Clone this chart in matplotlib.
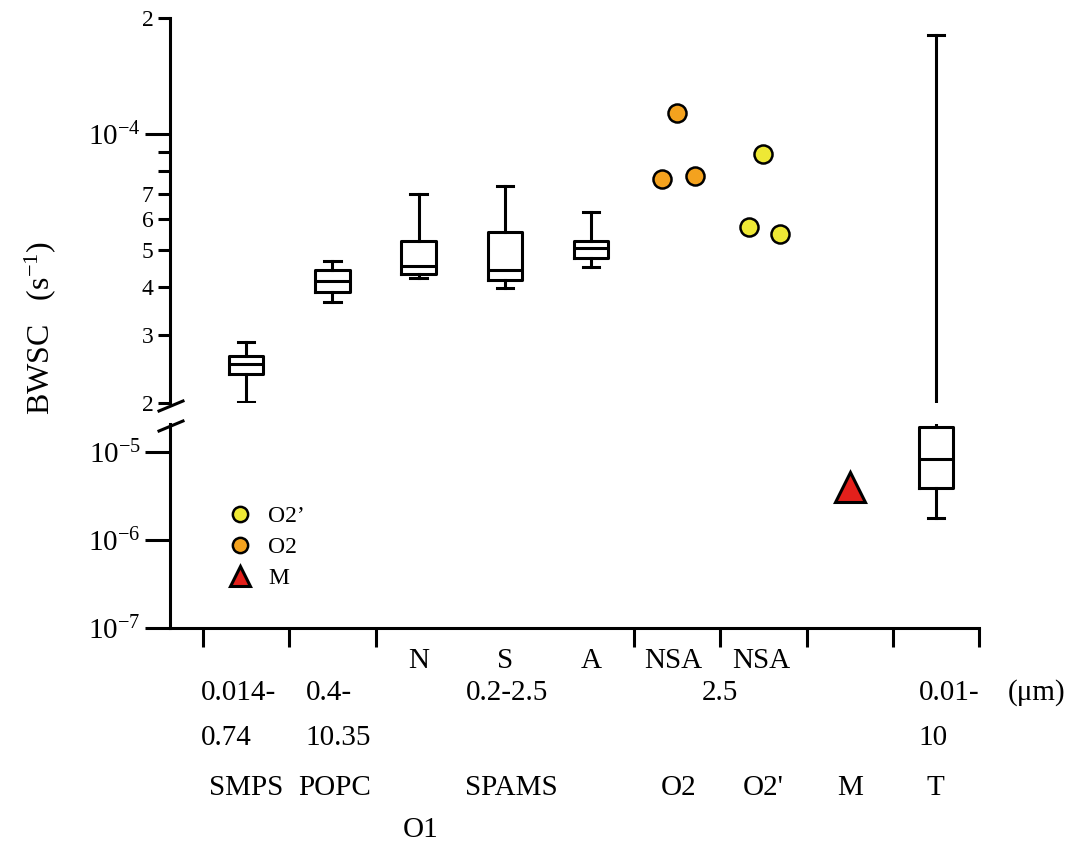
import numpy as np
import matplotlib
matplotlib.use("Agg")
import matplotlib.pyplot as plt
from matplotlib.lines import Line2D
from matplotlib.transforms import blended_transform_factory

plt.rcParams["font.family"] = ["Liberation Serif", "DejaVu Serif"]
plt.rcParams["mathtext.fontset"] = "custom"
plt.rcParams["mathtext.rm"] = "Liberation Serif"
plt.rcParams["mathtext.it"] = "Liberation Serif:italic"
plt.rcParams["mathtext.bf"] = "Liberation Serif:bold"

# box data (s^-1), categories SMPS, POPC, N, S, A, T
box_pos = [0, 1, 2, 3, 4, 8]
box_lo = [2.01e-5, 3.66e-5, 4.23e-5, 3.98e-5, 4.51e-5, 1.78e-6]
box_q1 = [2.38e-5, 3.88e-5, 4.33e-5, 4.17e-5, 4.76e-5, 3.9e-6]
box_med = [2.53e-5, 4.15e-5, 4.54e-5, 4.43e-5, 5.05e-5, 8.3e-6]
box_q3 = [2.65e-5, 4.43e-5, 5.27e-5, 5.56e-5, 5.27e-5, 1.92e-5]
box_hi = [2.88e-5, 4.68e-5, 6.98e-5, 7.33e-5, 6.27e-5, 1.81e-4]

# single points
o2_x = [4.82, 5.0, 5.2]
o2_y = [7.64e-5, 1.13e-4, 7.78e-5]
o2p_x = [5.83, 6.0, 6.19]
o2p_y = [5.73e-5, 8.86e-5, 5.50e-5]
m_x = [7]
m_y = [4.0e-6]

# labels under the axis
row_inst = ["N", "S", "A", "NSA", "NSA"]
row_inst_x = [2, 3, 4, 4.95, 5.98]
size_top = ["0.014-", "0.4-", "0.01-"]
size_bot = ["0.74", "10.35", "10"]
size_x = [-0.53, 0.69, 7.8]
size_mid = ["0.2-2.5", "2.5"]
size_mid_x = [3.02, 5.49]
names = ["SMPS", "POPC", "SPAMS", "O2", "O2'", "M", "T"]
names_x = [0, 1.02, 3.07, 5.01, 6.0, 7.0, 7.99]

W, H = 1071, 843
fig = plt.figure(figsize=(W/100, H/100), dpi=100)
left, right = 170, 979
ax_hi = fig.add_axes([left/W, 1-403/H, (right-left)/W, (403-18)/H])
ax_lo = fig.add_axes([left/W, 1-628/H, (right-left)/W, (628-424)/H])

LW = 2.2
stats = []
for i in range(len(box_pos)):
    stats.append(dict(whislo=box_lo[i], q1=box_q1[i], med=box_med[i],
                      q3=box_q3[i], whishi=box_hi[i], fliers=[]))

def draw_boxes(ax, idx):
    ax.bxp([stats[i] for i in idx], positions=[box_pos[i] for i in idx],
           widths=0.4, capwidths=0.19, showfliers=False,
           boxprops=dict(color="black", lw=LW),
           whiskerprops=dict(color="black", lw=LW),
           capprops=dict(color="black", lw=LW),
           medianprops=dict(color="black", lw=LW))

draw_boxes(ax_hi, [0, 1, 2, 3, 4, 5])
draw_boxes(ax_lo, [5])

ax_hi.plot(o2_x, o2_y, "o", ms=13, mfc="#F4A21E", mec="black", mew=1.8)
ax_hi.plot(o2p_x, o2p_y, "o", ms=13, mfc="#EEE835", mec="black", mew=1.8)
ax_lo.plot(m_x, m_y, "^", ms=21, mfc="#E3201B", mec="black", mew=2.2)

for ax in (ax_hi, ax_lo):
    ax.set_yscale("log")
    ax.set_xlim(-0.884, 8.5)
    ax.spines["top"].set_visible(False)
    ax.spines["right"].set_visible(False)
    ax.spines["left"].set_linewidth(LW)
    ax.spines["bottom"].set_linewidth(LW)
    ax.patch.set_alpha(0)

ax_hi.set_ylim(2e-5, 2e-4)
ax_hi.spines["bottom"].set_visible(False)
ax_hi.set_xticks([])
ax_hi.set_yticks([1e-4])
ax_hi.set_yticklabels([r"$10^{-4}$"])
ax_hi.set_yticks([2e-4, 9e-5, 8e-5, 7e-5, 6e-5, 5e-5, 4e-5, 3e-5, 2e-5], minor=True)
ax_hi.set_yticklabels(["2", "", "", "7", "6", "5", "4", "3", "2"], minor=True)

ax_lo.set_ylim(1e-7, 2.08e-5)
ax_lo.set_yticks([1e-5, 1e-6, 1e-7])
ax_lo.set_yticklabels([r"$10^{-5}$", r"$10^{-6}$", r"$10^{-7}$"])
ax_lo.yaxis.set_minor_locator(matplotlib.ticker.NullLocator())
ax_lo.set_xticks([-0.5, 0.5, 1.5, 4.5, 5.5, 6.5, 7.5, 8.5])
ax_lo.set_xticklabels([])
ax_lo.tick_params(axis="x", length=14, width=LW, direction="out")

for ax in (ax_hi, ax_lo):
    ax.tick_params(axis="y", which="major", length=18, width=LW, pad=3, labelsize=21)
    ax.tick_params(axis="y", which="minor", length=9, width=LW, pad=3, labelsize=17)

# axis break marks
for y0, y1 in [(411, 401), (431, 421)]:
    fig.add_artist(Line2D([159/W, 183/W], [1-y0/H, 1-y1/H], color="black",
                          lw=LW, transform=fig.transFigure))

# y label
fig.text(40/W, 1-328/H, "BWSC   (s$^{-1}$)", rotation=90, ha="center", va="center",
         fontsize=23)

# category labels
tr = blended_transform_factory(ax_lo.transData, fig.transFigure)
fs = 21
for s, x in zip(row_inst, row_inst_x):
    ax_lo.text(x, 1-661/H, s, transform=tr, ha="center", va="center", fontsize=fs)
for s, x in zip(size_top, size_x):
    ax_lo.text(x, 1-693/H, s, transform=tr, ha="left", va="center", fontsize=fs)
for s, x in zip(size_bot, size_x):
    ax_lo.text(x, 1-738/H, s, transform=tr, ha="left", va="center", fontsize=fs)
for s, x in zip(size_mid, size_mid_x):
    ax_lo.text(x, 1-693/H, s, transform=tr, ha="center", va="center", fontsize=fs)
ax_lo.text(9.17, 1-693/H, "(μm)", transform=tr, ha="center", va="center", fontsize=fs)
for s, x in zip(names, names_x):
    ax_lo.text(x, 1-788/H, s, transform=tr, ha="center", va="center", fontsize=fs)
ax_lo.text(2.02, 1-830/H, "O1", transform=tr, ha="center", va="center", fontsize=fs)

# legend
handles = [
    Line2D([], [], ls="none", marker="o", ms=11, mfc="#EEE835", mec="black", mew=1.8),
    Line2D([], [], ls="none", marker="o", ms=11, mfc="#F4A21E", mec="black", mew=1.8),
    Line2D([], [], ls="none", marker="^", ms=14, mfc="#E3201B", mec="black", mew=2.2),
]
ax_lo.legend(handles, ["O2’", "O2", "M"], loc="upper left",
             bbox_to_anchor=(0.072, 0.6), frameon=False, fontsize=17,
             handlelength=1.0, handletextpad=0.7, labelspacing=0.4,
             borderpad=0, borderaxespad=0)

fig.savefig("out.png", dpi=100)
